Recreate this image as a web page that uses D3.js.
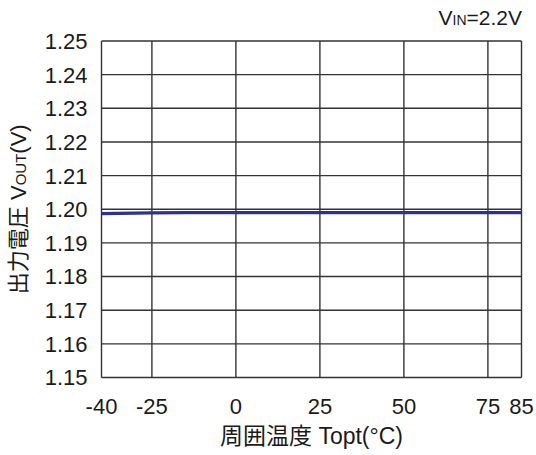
<!DOCTYPE html>
<html>
<head>
<meta charset="utf-8">
<script src="https://cdn.jsdelivr.net/npm/d3@7"></script>
<style>
  html, body { margin: 0; padding: 0; background: #fff; }
  svg { display: block; }
  text { font-family: "Liberation Sans", Arial, "Noto Sans CJK JP", sans-serif; fill: #1a1a1a; }
</style>
</head>
<body>
<svg id="chart" width="536" height="455"></svg>
<script>
// Output voltage vs. ambient temperature
const temps = [-40, -25, -15, 0, 25, 50, 75, 85];
const vout  = [1.1987, 1.1989, 1.1990, 1.1990, 1.1990, 1.1990, 1.1990, 1.1990];
const xTicks = [-40, -25, 0, 25, 50, 75, 85];
const yTicks = [1.15, 1.16, 1.17, 1.18, 1.19, 1.20, 1.21, 1.22, 1.23, 1.24, 1.25];

const margin = { left: 101.5, right: 536 - 521.5, top: 41, bottom: 455 - 377.5 };
const svg = d3.select("#chart");
const W = 536, H = 455;

const x = d3.scaleLinear().domain([-40, 85]).range([margin.left, W - margin.right]);
const y = d3.scaleLinear().domain([1.15, 1.25]).range([H - margin.bottom, margin.top]);

const gridColor = "#333";

// vertical grid
svg.append("g").selectAll("line").data(xTicks).join("line")
  .attr("x1", d => x(d)).attr("x2", d => x(d))
  .attr("y1", y(1.15)).attr("y2", y(1.25))
  .attr("stroke", gridColor).attr("stroke-width", 1.4);

// horizontal grid
svg.append("g").selectAll("line").data(yTicks).join("line")
  .attr("x1", x(-40)).attr("x2", x(85))
  .attr("y1", d => y(d)).attr("y2", d => y(d))
  .attr("stroke", gridColor).attr("stroke-width", 1.4);

// y tick labels
svg.append("g").selectAll("text").data(yTicks).join("text")
  .attr("x", x(-40) - 14).attr("y", d => y(d))
  .attr("dy", "0.36em")
  .attr("text-anchor", "end")
  .attr("font-size", 22)
  .text(d => d.toFixed(2));

// x tick labels
svg.append("g").selectAll("text").data(xTicks).join("text")
  .attr("x", d => x(d)).attr("y", y(1.15) + 36)
  .attr("text-anchor", "middle")
  .attr("font-size", 22)
  .text(d => d);

// data line
const line = d3.line().x((d, i) => x(temps[i])).y(d => y(d));
svg.append("path")
  .datum(vout)
  .attr("d", line)
  .attr("fill", "none")
  .attr("stroke", "#2e3192")
  .attr("stroke-width", 3.2);

// x-axis title
svg.append("text")
  .attr("x", (x(-40) + x(85)) / 2).attr("y", 444)
  .attr("text-anchor", "middle")
  .attr("font-size", 23)
  .text("周囲温度 Topt(°C)");

// y-axis title
const yt = svg.append("text")
  .attr("transform", `translate(26,${(y(1.15) + y(1.25)) / 2}) rotate(-90)`)
  .attr("text-anchor", "middle")
  .attr("font-size", 22);
yt.append("tspan").text("出力電圧 V");
yt.append("tspan").attr("font-size", 15).text("OUT");
yt.append("tspan").text("(V)");

// condition note
const note = svg.append("text")
  .attr("x", 522).attr("y", 25)
  .attr("text-anchor", "end")
  .attr("font-size", 21);
note.append("tspan").text("V");
note.append("tspan").attr("font-size", 14).text("IN");
note.append("tspan").text("=2.2V");
</script>
</body>
</html>
